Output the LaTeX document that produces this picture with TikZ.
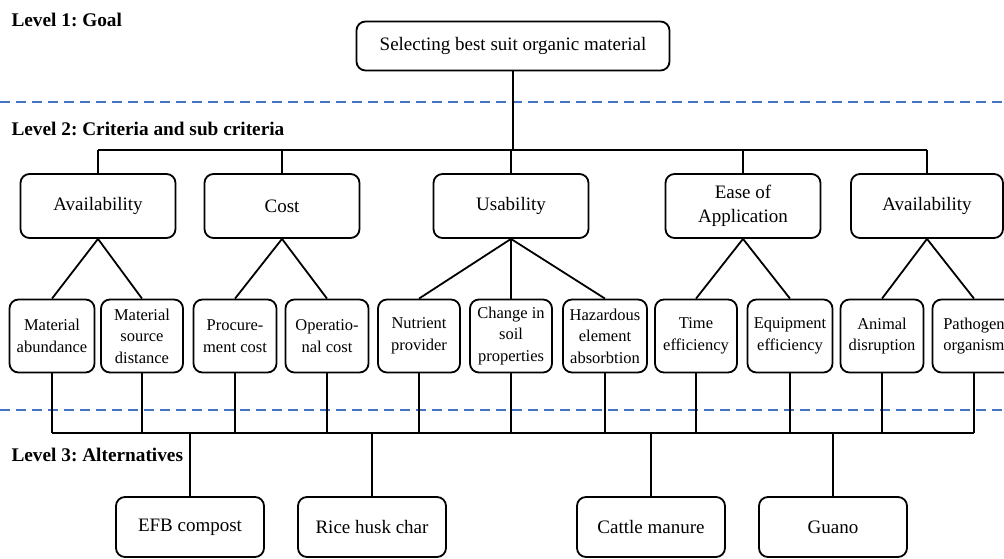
\documentclass[tikz,border=0pt]{standalone}
\usepackage{fontspec}
\setmainfont{Liberation Serif}
\usetikzlibrary{positioning}
\definecolor{levelblue}{RGB}{68,114,196}
\frenchspacing

\begin{document}
\begin{tikzpicture}[x=1pt, y=-1pt,
  box/.style={draw, rounded corners=9pt, line width=1.8pt, align=center, inner sep=1pt, font=\fontsize{19}{24.5}\selectfont},
  crit/.style={box, minimum width=155pt, minimum height=64pt},
  sub/.style={box, minimum width=83pt, minimum height=73pt, font=\fontsize{16.5}{21.5}\selectfont},
  alt/.style={box, minimum width=148pt, minimum height=60pt},
  link/.style={line width=1.8pt},
  level/.style={anchor=west, font=\bfseries\fontsize{19.3}{23}\selectfont},
  sep/.style={levelblue, line width=2pt, dash pattern=on 10pt off 6pt},
]
  \clip (0,0) rectangle (1004,559);
  \useasboundingbox (0,0) rectangle (1004,559);

  % level labels and separators
  \node[level] (lvl1) at (8,20) {Level 1: Goal};
  \node[level] (lvl2) at (8,129) {Level 2: Criteria and sub criteria};
  \node[level] (lvl3) at (8,455) {Level 3: Alternatives};
  \draw[sep] (0,102) -- (1004,102);
  \draw[sep] (0,410) -- (1004,410);

  % goal
  \node[box, minimum width=313pt, minimum height=49pt] (goal) at (513,46) {Selecting best suit organic material};

  % criteria
  \node[crit] (avail) at (98,206) {Availability};
  \node[crit] (cost) at (282,206) {Cost};
  \node[crit] (usab) at (511,206) {Usability};
  \node[crit] (ease) at (743,206) {Ease of\\Application};
  \node[crit, minimum width=152pt] (availb) at (927,206) {Availability};

  % sub criteria
  \node[sub, minimum width=85pt] (ma) at (52,336) {Material\\abundance};
  \node[sub, minimum width=82pt] (msd) at (142,336) {Material\\source\\distance};
  \node[sub] (pc) at (235,336) {Procure-\\ment cost};
  \node[sub] (oc) at (327,336) {Operatio-\\nal cost};
  \node[sub, minimum width=82pt] (np) at (419,336) {Nutrient\\provider};
  \node[sub, minimum width=82pt] (csp) at (511,336) {Change in\\soil\\properties};
  \node[sub, minimum width=84pt] (hea) at (605,336) {Hazardous\\element\\absorbtion};
  \node[sub, minimum width=82pt] (te) at (696,336) {Time\\efficiency};
  \node[sub, minimum width=85pt] (ee) at (790,336) {Equipment\\efficiency};
  \node[sub] (ad) at (882,336) {Animal\\disruption};
  \node[sub] (po) at (974,336) {Pathogen\\organism};

  % alternatives
  \node[alt] (efb) at (190,527) {EFB compost};
  \node[alt] (rhc) at (372,527) {Rice husk char};
  \node[alt] (cm) at (651,527) {Cattle manure};
  \node[alt] (guano) at (833,527) {Guano};

  % goal to criteria
  \coordinate (topbus) at (0,150);
  \draw[link] (goal.south) -- (goal.south |- topbus);
  \draw[link] (avail.north |- topbus) -- (availb.north |- topbus);
  \foreach \c in {avail,cost,usab,ease,availb}
    \draw[link] (\c.north) -- (\c.north |- topbus);

  % criteria to sub criteria
  \draw[link] (avail.south) -- (ma.north);
  \draw[link] (avail.south) -- (msd.north);
  \draw[link] (cost.south) -- (pc.north);
  \draw[link] (cost.south) -- (oc.north);
  \draw[link] (usab.south) -- (np.north);
  \draw[link] (usab.south) -- (csp.north);
  \draw[link] (usab.south) -- (hea.north);
  \draw[link] (ease.south) -- (te.north);
  \draw[link] (ease.south) -- (ee.north);
  \draw[link] (availb.south) -- (ad.north);
  \draw[link] (availb.south) -- (po.north);

  % sub criteria to alternatives
  \coordinate (lowbus) at (0,433);
  \draw[link] (ma.south |- lowbus) -- (po.south |- lowbus);
  \foreach \s in {ma,msd,pc,oc,np,csp,hea,te,ee,ad,po}
    \draw[link] (\s.south) -- (\s.south |- lowbus);
  \foreach \a in {efb,rhc,cm,guano}
    \draw[link] (\a.north |- lowbus) -- (\a.north);
\end{tikzpicture}
\end{document}
